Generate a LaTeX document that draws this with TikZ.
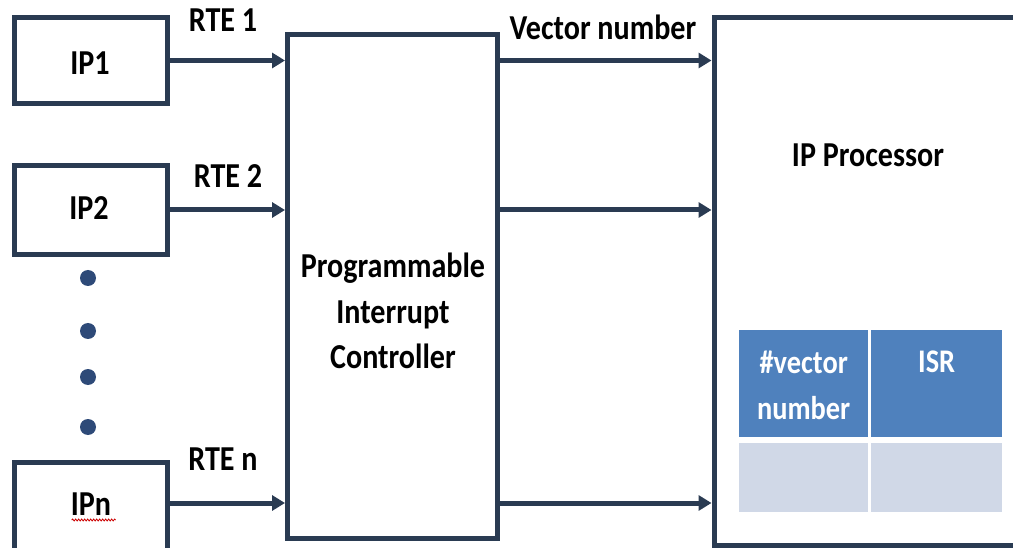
\documentclass[tikz,border=0pt]{standalone}
\usepackage{fontspec}
\setmainfont[FakeStretch=0.86]{Carlito}
\usetikzlibrary{arrows.meta,decorations.pathmorphing}

\definecolor{navy}{HTML}{2A3B52}
\definecolor{dotblue}{HTML}{2E4A78}
\definecolor{hdrblue}{HTML}{4F81BD}
\definecolor{rowblue}{HTML}{D0D8E7}

\tikzset{
  box/.style={draw=navy, line width=5pt, fill=white},
  link/.style={draw=navy, line width=5pt, -{Triangle[length=13pt,width=15pt]}},
  lbl/.style={font=\bfseries\fontsize{35}{46}\selectfont, anchor=base, inner sep=0pt},
  cell/.style={font=\bfseries\fontsize{33}{46}\selectfont, text=white, align=center, anchor=base, inner sep=0pt},
}

\begin{document}
\begin{tikzpicture}[x=1pt,y=-1pt]
  \useasboundingbox (0,0) rectangle (1013,548);
  \clip (0,0) rectangle (1013,548);
  % sources
  \node [box, minimum width=153pt, minimum height=86pt] (ip1) at (91,60.5) {};
  \node [box, minimum width=153pt, minimum height=89pt] (ip2) at (91,210) {};
  \node [box, minimum width=153pt, minimum height=90pt] (ipn) at (91,507) {};
  \node [lbl] (ip1lbl) at (90,75) {IP1};
  \node [lbl] (ip2lbl) at (89,220) {IP2};
  \node [lbl] (ipnlbl) at (91,515) {IPn};
  \draw [red!80!black, line width=0.8pt, decorate, decoration={snake, amplitude=1pt, segment length=3pt}] (ipnlbl.base west) ++(1,5) -- ++(44,0);
  % dots
  \foreach \y in {278,331,377,427}
    \fill [dotblue] (88,\y) circle (8pt);
  % controller and processor
  \node [box, minimum width=210pt, minimum height=504pt] (pic) at (392.5,286.5) {};
  \node [lbl, align=center] (piclbl) at (393,369) {Programmable\\Interrupt\\Controller};
  \node [box, minimum width=330pt, minimum height=527pt, anchor=north west] (proc) at (711.5,15.5) {};
  \node [lbl] (proclbl) at (868,167) {IP Processor};
  % table
  \node [fill=hdrblue, minimum width=129pt, minimum height=107pt, anchor=north west] (hdra) at (739,330) {};
  \node [fill=hdrblue, minimum width=131pt, minimum height=107pt, anchor=north west] (hdrb) at (871,330) {};
  \node [fill=rowblue, minimum width=129pt, minimum height=69pt, anchor=north west] (rowa) at (739,443) {};
  \node [fill=rowblue, minimum width=131pt, minimum height=69pt, anchor=north west] (rowb) at (871,443) {};
  \node [cell] at (hdra.north |- 0,419) {\#vector\\number};
  \node [cell] at (hdrb.north |- 0,373) {ISR};
  % connectors
  \draw [link] (ip1) -- (ip1 -| pic.west);
  \draw [link] (ip2) -- (ip2 -| pic.west);
  \draw [link] (ipn.east |- 0,503) -- (pic.west |- 0,503);
  \draw [link] (pic.east |- ip1) -- (ip1 -| proc.west);
  \draw [link] (pic.east |- ip2) -- (ip2 -| proc.west);
  \draw [link] (pic.east |- 0,503) -- (proc.west |- 0,503);
  % signal labels
  \node [lbl] at (223,32) {RTE 1};
  \node [lbl] at (228,188) {RTE 2};
  \node [lbl] at (223,470) {RTE n};
  \node [lbl] at (603,40) {Vector number};
\end{tikzpicture}
\end{document}
